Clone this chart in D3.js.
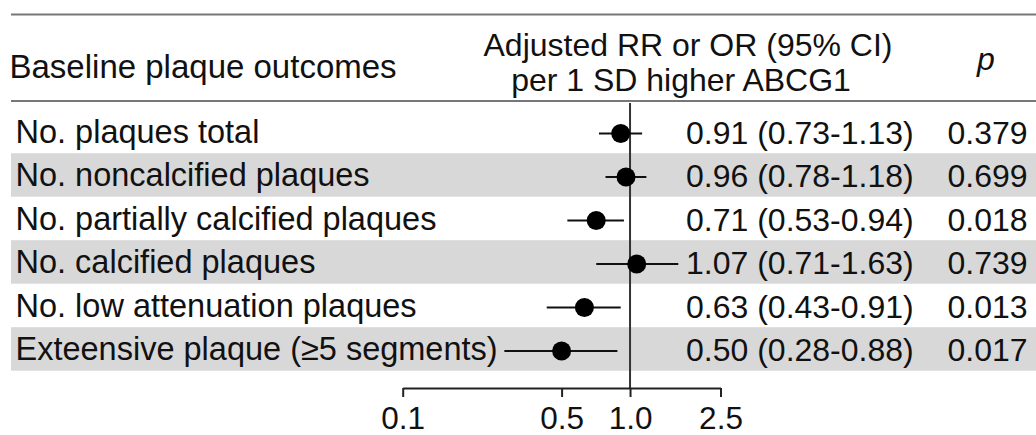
<!DOCTYPE html>
<html>
<head>
<meta charset="utf-8">
<script src="https://cdn.jsdelivr.net/npm/d3@7"></script>
<style>
  html, body { margin: 0; padding: 0; background: #ffffff; }
  svg { display: block; font-family: "Liberation Sans", Arial, sans-serif; }
</style>
</head>
<body>
<svg id="chart" width="1036" height="435"></svg>
<script>
// Baseline plaque outcomes: adjusted RR / OR per 1 SD higher ABCG1
const outcomes = [
  "No. plaques total",
  "No. noncalcified plaques",
  "No. partially calcified plaques",
  "No. calcified plaques",
  "No. low attenuation plaques",
  "Exteensive plaque (\u22655 segments)"
];
const estimate = [0.91, 0.96, 0.71, 1.07, 0.63, 0.50];
const ciLow    = [0.73, 0.78, 0.53, 0.71, 0.43, 0.28];
const ciHigh   = [1.13, 1.18, 0.94, 1.63, 0.91, 0.88];
const pValues  = ["0.379", "0.699", "0.018", "0.739", "0.013", "0.017"];
const tickValues = [0.1, 0.5, 1.0, 2.5];
const tickLabels = ["0.1", "0.5", "1.0", "2.5"];

const svg = d3.select("#chart");
const W = 1036;
const fontSize = 32;
const labelSize = 32.5;
const left = 11;

const rows = outcomes.map((label, i) => ({
  label, est: estimate[i], lo: ciLow[i], hi: ciHigh[i], p: pValues[i], i
}));

// log-scaled ratio axis
const x = d3.scaleLog().domain([0.1, 2.5]).range([402.7, 720.5]);
// one band per outcome
const y = d3.scaleBand().domain(d3.range(rows.length)).range([109.7, 370.7]).padding(0);

const headerTop = 14.5, headerBottom = 101;
const axisY = 388;

// shaded alternate rows
svg.append("g").selectAll("rect")
  .data(rows.filter(d => d.i % 2 === 1))
  .join("rect")
  .attr("x", left)
  .attr("y", d => y(d.i))
  .attr("width", W - left)
  .attr("height", y.bandwidth())
  .attr("fill", "#d8d8d8");

// header rules
svg.append("line").attr("x1", left).attr("x2", W).attr("y1", headerTop).attr("y2", headerTop)
  .attr("stroke", "#777").attr("stroke-width", 2);
svg.append("line").attr("x1", left).attr("x2", W).attr("y1", headerBottom).attr("y2", headerBottom)
  .attr("stroke", "#777").attr("stroke-width", 2);

// header text
const header = svg.append("g").attr("font-size", fontSize).attr("fill", "#111");
header.append("text").attr("x", 9.5).attr("y", 77.5).attr("font-size", 33)
  .text("Baseline plaque outcomes");
header.append("text").attr("x", 688).attr("y", 56).attr("text-anchor", "middle")
  .text("Adjusted RR or OR (95% CI)");
header.append("text").attr("x", 681).attr("y", 91).attr("text-anchor", "middle")
  .text("per 1 SD higher ABCG1");
header.append("text").attr("x", 986).attr("y", 70).attr("text-anchor", "middle")
  .attr("font-style", "italic").text("p");

// line of no effect
svg.append("line")
  .attr("x1", x(1)).attr("x2", x(1))
  .attr("y1", headerBottom + 2).attr("y2", axisY)
  .attr("stroke", "#333").attr("stroke-width", 2);

// axis
const axis = d3.axisBottom(x)
  .tickValues(tickValues)
  .tickFormat((d, i) => tickLabels[i])
  .tickSize(9)
  .tickSizeOuter(0);
const ag = svg.append("g").attr("transform", `translate(0,${axisY})`).call(axis);
ag.select(".domain").attr("stroke", "#222").attr("stroke-width", 2);
ag.selectAll(".tick line").attr("stroke", "#222").attr("stroke-width", 2);
ag.selectAll(".tick text")
  .attr("font-size", 31.5)
  .attr("font-family", "Liberation Sans, Arial, sans-serif")
  .attr("fill", "#111")
  .attr("y", 40.5).attr("dy", 0);

// rows: labels, intervals, points, numbers
const rowG = svg.append("g").selectAll("g").data(rows).join("g")
  .attr("transform", d => `translate(0,${y(d.i) + y.bandwidth() / 2})`);

rowG.append("text")
  .attr("x", 15.5).attr("y", 11.5)
  .attr("font-size", labelSize).attr("fill", "#111")
  .text(d => d.label);

rowG.append("line")
  .attr("x1", d => x(d.lo)).attr("x2", d => x(d.hi))
  .attr("y1", 2).attr("y2", 2)
  .attr("stroke", "#111").attr("stroke-width", 2);

rowG.append("circle")
  .attr("cx", d => x(d.est)).attr("cy", 2).attr("r", 9.5)
  .attr("fill", "#000");

rowG.append("text")
  .attr("x", 686).attr("y", 12.5)
  .attr("font-size", fontSize).attr("fill", "#111")
  .text(d => `${d.est.toFixed(2)} (${d.lo.toFixed(2)}-${d.hi.toFixed(2)})`);

rowG.append("text")
  .attr("x", 947.5).attr("y", 12.5)
  .attr("font-size", fontSize).attr("fill", "#111")
  .text(d => d.p);
</script>
</body>
</html>
